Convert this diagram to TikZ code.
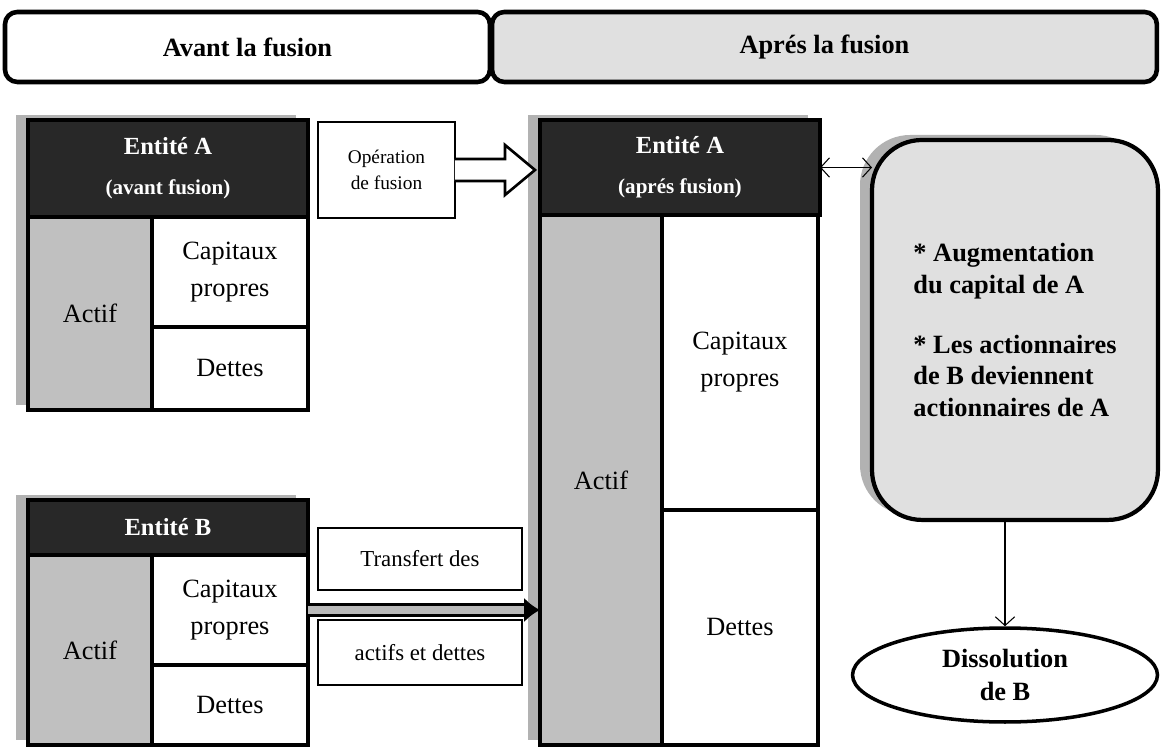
\documentclass[tikz,border=0pt]{standalone}
\usepackage{fontspec}
\setmainfont{Liberation Serif}
\usepackage{tikz}
\usetikzlibrary{positioning,calc}
\usetikzlibrary{shapes.geometric,shadows}
\usetikzlibrary{arrows.meta}
\definecolor{fond}{RGB}{40,40,40}
\definecolor{grisactif}{RGB}{192,192,192}
\definecolor{clair}{RGB}{224,224,224}
\tikzstyle{ombre} = [drop shadow={shadow xshift=-0.24cm, shadow yshift=0.1cm, fill=gray!60, opacity=1}]
\tikzstyle{bande} = [draw, line width=2.6pt, rounded corners=7pt, inner sep=0pt, outer sep=0pt, minimum height=1.4cm, anchor=north west, font=\bfseries\fontsize{15}{18}\selectfont]
\tikzstyle{entete} = [draw, fill=fond, text=white, line width=1.8pt, inner sep=0pt, outer sep=0pt, ombre, align=center, anchor=north west, font=\bfseries\fontsize{14}{17}\selectfont]
\tikzstyle{poste} = [draw, fill=white, line width=2pt, inner sep=0pt, outer sep=0pt, align=center, anchor=north west, font=\fontsize{15}{21}\selectfont]
\tikzstyle{actifbox} = [poste, fill=grisactif, ombre]
\tikzstyle{etiquette} = [draw, fill=white, line width=1.6pt, inner sep=0pt, outer sep=0pt, align=center, anchor=north west, font=\fontsize{13}{16}\selectfont]
\tikzstyle{fleche} = [-{Straight Barb[length=5pt,width=11pt]}, line width=0.6pt]

\begin{document}
\begin{tikzpicture}[x=0.02cm, y=-0.02cm]
\useasboundingbox (0,0) rectangle (1162,756);

\node[bande, fill=white, minimum width=9.7cm] (avant) at (5,12) {Avant la fusion};
\node[bande, fill=clair, minimum width=13.3cm] (apres) at (492,12) {Aprés la fusion};

% entite A avant
\node[actifbox, minimum width=2.48cm, minimum height=3.86cm] (actA) at (28,217) {Actif};
\node[poste, minimum width=3.12cm, minimum height=2.2cm] (capA) at (actA.north east) {Capitaux\\propres};
\node[poste, minimum width=3.12cm, minimum height=1.66cm] (detA) at (capA.south west) {Dettes};
\node[entete, minimum width=5.6cm, minimum height=1.94cm] (hdrA) at (28,120) {Entité A\\[6pt]{\fontsize{12}{14}\selectfont (avant fusion)}};

% entite B
\node[actifbox, minimum width=2.48cm, minimum height=3.8cm] (actB) at (28,555) {Actif};
\node[poste, minimum width=3.12cm, minimum height=2.2cm] (capB) at (actB.north east) {Capitaux\\propres};
\node[poste, minimum width=3.12cm, minimum height=1.6cm] (detB) at (capB.south west) {Dettes};
\node[entete, minimum width=5.6cm, minimum height=1.1cm] (hdrB) at (28,500) {Entité B};

% entite A apres
\node[actifbox, minimum width=2.44cm, minimum height=10.6cm] (actA2) at (540,215) {Actif};
\node[poste, minimum width=3.12cm, minimum height=5.9cm] (capA2) at (actA2.north east) {Capitaux\\propres};
\node[poste, minimum width=3.12cm, minimum height=4.7cm] (detA2) at (capA2.south west) {Dettes};
\node[entete, minimum width=5.6cm, minimum height=1.9cm] (hdrA2) at (540,120) {Entité A\\[6pt]{\fontsize{12}{14}\selectfont (aprés fusion)}};

\node[etiquette, minimum width=2.74cm, minimum height=1.92cm, font=\fontsize{11}{15}\selectfont] (opfus) at (318,122) {Opération\\de fusion};
\node[etiquette, minimum width=4.08cm, minimum height=1.24cm] (transf) at (318,528) {Transfert des};
\node[etiquette, minimum width=4.08cm, minimum height=1.3cm] (actdet) at (318,620) {actifs et dettes};

\draw[fill=white, line width=1.5pt] ($(opfus.east)+(0,-11)$) -- ++(50,0) -- ++(0,-14)
    -- ++(30,25) -- ++(-30,25) -- ++(0,-14) -- ++(-50,0);

\draw[double=gray!55, double distance=4.5pt, line width=1.5pt, -{Latex[length=9pt,width=14pt]}]
    (capB.east) -- (capB.east -| actA2.west);

\node[draw, fill=clair, line width=2.4pt, rounded corners=1cm, ombre, inner sep=0pt, outer sep=0pt,
    minimum width=5.72cm, minimum height=7.6cm, anchor=north west, align=left,
    font=\bfseries\fontsize{15}{18}\selectfont] (infobox) at (872,140)
    {* Augmentation\\du capital de A\\[16pt]* Les actionnaires\\de B deviennent\\actionnaires de A};

\node[draw, ellipse, fill=white, line width=2pt, minimum width=6.1cm, minimum height=1.88cm,
    align=center, font=\bfseries\fontsize{15}{19}\selectfont] (dissol) at (1005,675) {Dissolution\\de B};

\draw[fleche, {Straight Barb[length=5pt,width=11pt]}-{Straight Barb[length=5pt,width=11pt]}]
    (hdrA2.east) -- (hdrA2.east -| infobox.west);
\draw[fleche] (infobox.south -| dissol.north) -- (dissol.north);
\end{tikzpicture}
\end{document}
